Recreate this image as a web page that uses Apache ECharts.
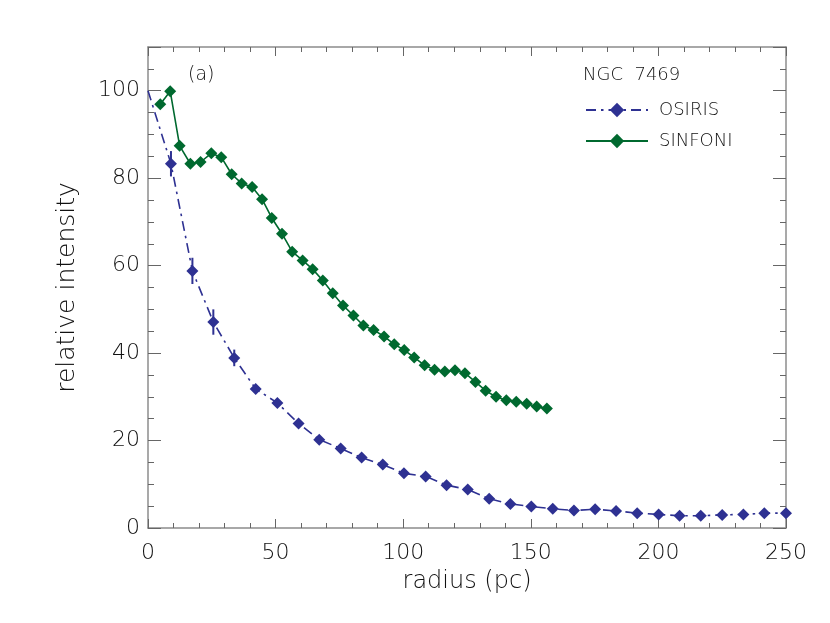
<!DOCTYPE html>
<html>
<head>
<meta charset="utf-8">
<script src="https://cdn.jsdelivr.net/npm/echarts@6/dist/echarts.min.js"></script>
<style>html,body{margin:0;padding:0;background:#fff;}#c{width:830px;height:623px;}</style>
</head>
<body>
<div id="c"></div>
<script>
// ---- data ----
var osirisX = [0, 9.0, 17.4, 25.6, 33.8, 42.2, 50.7, 59.0, 67.1, 75.5, 83.7, 92.0, 100.3, 108.8, 117.0, 125.3, 133.7, 142.0, 150.2, 158.6, 166.9, 175.2, 183.4, 191.7, 200.1, 208.3, 216.6, 225.0, 233.3, 241.5, 250.0];
var osirisY = [100, 83.3, 58.8, 47.1, 38.9, 31.8, 28.6, 23.9, 20.2, 18.2, 16.1, 14.5, 12.5, 11.8, 9.8, 8.8, 6.7, 5.5, 4.9, 4.4, 4.0, 4.3, 3.9, 3.4, 3.1, 2.8, 2.8, 3.0, 3.1, 3.4, 3.4];
var osirisErr = [0, 2.9, 3.0, 2.9, 1.9, 0, 0, 0, 0, 0, 0, 0, 0, 0, 0, 0, 0, 0, 0, 0, 0, 0, 0, 0, 0, 0, 0, 0, 0, 0, 0];
var sinfoniX = [4.8, 8.7, 12.4, 16.6, 20.6, 24.8, 28.7, 32.8, 36.7, 40.8, 44.7, 48.5, 52.5, 56.5, 60.6, 64.5, 68.5, 72.4, 76.4, 80.5, 84.4, 88.4, 92.5, 96.5, 100.4, 104.3, 108.4, 112.3, 116.3, 120.3, 124.2, 128.3, 132.3, 136.4, 140.4, 144.3, 148.4, 152.3, 156.3];
var sinfoniY = [96.9, 99.9, 87.4, 83.3, 83.7, 85.7, 84.8, 80.9, 78.8, 78.0, 75.2, 70.9, 67.3, 63.2, 61.2, 59.2, 56.6, 53.7, 50.9, 48.6, 46.3, 45.3, 43.8, 42.0, 40.7, 39.0, 37.2, 36.2, 35.8, 36.1, 35.4, 33.4, 31.4, 30.0, 29.2, 28.9, 28.4, 27.8, 27.3];
var seriesNames = ['OSIRIS', 'SINFONI'];
var xTitle = 'radius (pc)';
var yTitle = 'relative intensity';
var panelLabel = '(a)';
var objectName = 'NGC  7469';

// ---- styles ----
var FONT = 'DejaVu Sans';
var BLUE = '#2E3192';
var GREEN = '#00692F';
var AXIS = '#8c8c8c';
var TICK = '#666';
var TXT = '#111';

var osirisData = osirisX.map(function (x, i) {
  var d = { value: [x, osirisY[i]] };
  if (i === 0) d.symbol = 'none';
  return d;
});
var sinfoniData = sinfoniX.map(function (x, i) { return [x, sinfoniY[i]]; });
var errData = [];
osirisX.forEach(function (x, i) { if (osirisErr[i] > 0) errData.push([x, osirisY[i] - osirisErr[i], osirisY[i] + osirisErr[i]]); });

function xAx(pos, show) {
  return {
    type: 'value', position: pos, min: 0, max: 250, interval: 50,
    name: show ? xTitle : '', nameLocation: 'middle', nameGap: 42,
    nameTextStyle: { fontFamily: FONT, fontWeight: 200, fontSize: 24, color: TXT },
    axisLine: { show: true, onZero: false, lineStyle: { color: AXIS, width: 1.5 } },
    axisTick: { show: true, inside: true, length: 9, lineStyle: { color: TICK, width: 1 } },
    minorTick: { show: true, splitNumber: 5, length: 5, lineStyle: { color: TICK, width: 1 } },
    axisLabel: { show: show, margin: 14, fontFamily: FONT, fontWeight: 200, fontSize: 22, color: TXT },
    splitLine: { show: false }
  };
}
function yAx(pos, show) {
  return {
    type: 'value', position: pos, min: 0, max: 110, interval: 20,
    name: show ? yTitle : '', nameLocation: 'middle', nameGap: 68, nameRotate: 90,
    nameTextStyle: { fontFamily: FONT, fontWeight: 200, fontSize: 25, color: TXT },
    axisLine: { show: true, onZero: false, lineStyle: { color: AXIS, width: 1.5 } },
    axisTick: { show: true, inside: true, length: 13, lineStyle: { color: TICK, width: 1 } },
    minorTick: { show: true, splitNumber: 4, length: 6, lineStyle: { color: TICK, width: 1 } },
    axisLabel: { show: show, margin: 8, fontFamily: FONT, fontWeight: 200, fontSize: 22, color: TXT,
      showMaxLabel: false },
    splitLine: { show: false }
  };
}

var chart = echarts.init(document.getElementById('c'), null, { renderer: 'canvas' });
chart.setOption({
  animation: false,
  backgroundColor: '#fff',
  grid: { left: 148, right: 44, top: 47, bottom: 95, containLabel: false },
  title: [
    { text: panelLabel, left: 188, top: 66, padding: 0, textStyle: { fontFamily: FONT, fontWeight: 200, fontSize: 19, color: TXT } },
    { text: objectName, left: 583, top: 66, padding: 0, textStyle: { fontFamily: FONT, fontWeight: 200, fontSize: 18, color: TXT } }
  ],
  legend: {
    orient: 'vertical', left: 580, top: 96, itemWidth: 62, itemHeight: 18, itemGap: 13,
    data: seriesNames,
    textStyle: { fontFamily: FONT, fontWeight: 200, fontSize: 18, color: TXT, padding: [0, 0, 0, 6] }
  },
  xAxis: [xAx('bottom', true), xAx('top', false)],
  yAxis: [yAx('left', true), yAx('right', false)],
  series: [
    {
      name: seriesNames[0], type: 'line', data: osirisData, xAxisIndex: 0, yAxisIndex: 0,
      symbol: 'diamond', symbolSize: 12, color: BLUE,
      lineStyle: { color: BLUE, width: 1.6, type: [10, 5, 2.5, 5] },
      itemStyle: { color: BLUE }, z: 3
    },
    {
      name: seriesNames[1], type: 'line', data: sinfoniData, xAxisIndex: 0, yAxisIndex: 0,
      symbol: 'diamond', symbolSize: 12, color: GREEN,
      lineStyle: { color: GREEN, width: 1.6, type: 'solid' },
      itemStyle: { color: GREEN }, z: 3
    },
    {
      name: 'err', type: 'custom', data: errData, xAxisIndex: 0, yAxisIndex: 0, z: 2,
      renderItem: function (params, api) {
        var p1 = api.coord([api.value(0), api.value(1)]);
        var p2 = api.coord([api.value(0), api.value(2)]);
        return { type: 'line', shape: { x1: p1[0], y1: p1[1], x2: p2[0], y2: p2[1] },
          style: { stroke: BLUE, lineWidth: 2 } };
      }
    }
  ]
});
</script>
</body>
</html>
